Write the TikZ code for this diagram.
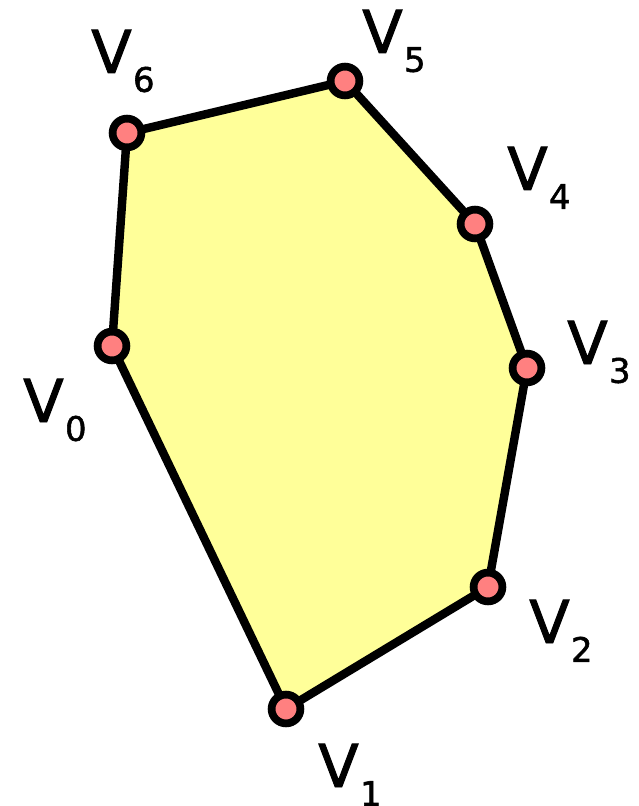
\documentclass[tikz,border=0pt]{standalone}
\usepackage{fontspec}
\setmainfont{DejaVu Sans}[FakeBold=1.6]
\usetikzlibrary{positioning}
\definecolor{polyfill}{HTML}{FFFF99}
\definecolor{vertfill}{HTML}{FF8080}
\tikzset{
  vert/.style={circle,draw=black,fill=vertfill,line width=5.5pt,minimum size=0.72cm,inner sep=0pt},
  vlabel/.style={anchor=base west,inner sep=0pt,font=\fontsize{42}{50}\selectfont},
}
\newcommand{\vname}[1]{V\kern1pt\raisebox{-0.47cm}{\fontsize{24}{30}\selectfont #1}}

\begin{document}
\begin{tikzpicture}[x=0.025cm,y=-0.025cm]
  \useasboundingbox (0,0) rectangle (638,806);
  \coordinate (P0) at (112,346); \coordinate (P1) at (286,709);
  \coordinate (P2) at (488,587); \coordinate (P3) at (527,368);
  \coordinate (P4) at (475,224); \coordinate (P5) at (345,81);
  \coordinate (P6) at (127,133);
  \filldraw[fill=polyfill,line width=6pt,line join=round]
    (P0)--(P1)--(P2)--(P3)--(P4)--(P5)--(P6)--cycle;
  \foreach \i in {0,...,6} \node[vert] (v\i) at (P\i) {};
  % labels
  \node[vlabel] (l0) at (23,422) {\vname{0}};
  \node[vlabel] (l1) at (318,787) {\vname{1}};
  \node[vlabel] (l2) at (529,643) {\vname{2}};
  \node[vlabel] (l3) at (567,364) {\vname{3}};
  \node[vlabel] (l4) at (507,190) {\vname{4}};
  \node[vlabel] (l5) at (362,53) {\vname{5}};
  \node[vlabel] (l6) at (91,73) {\vname{6}};
\end{tikzpicture}
\end{document}
